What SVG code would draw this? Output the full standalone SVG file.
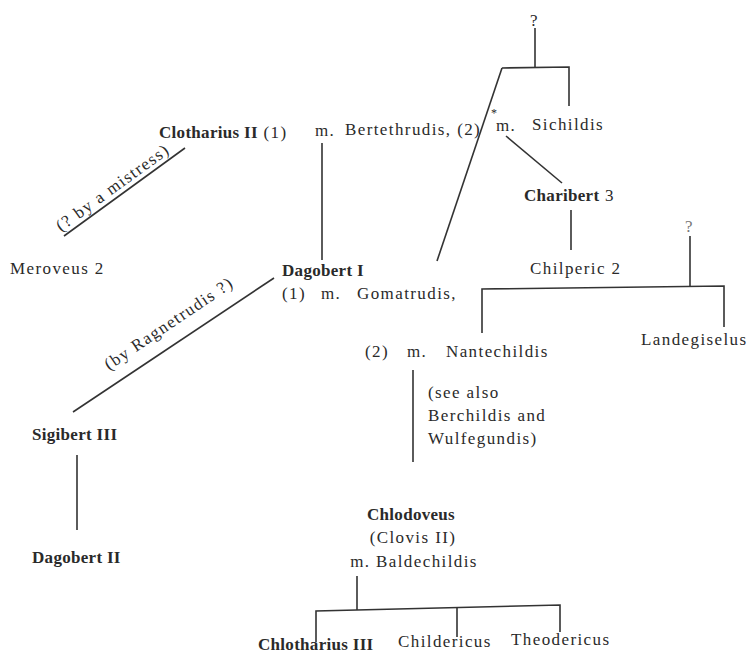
<svg xmlns="http://www.w3.org/2000/svg" width="751" height="656" viewBox="0 0 751 656">
<style>
text{font-family:"Liberation Serif","Times New Roman",serif;font-size:17px;fill:#2a2a2a;letter-spacing:1.4px}
.b{font-weight:bold;letter-spacing:0.3px}
.s{font-size:12px}
#connectors line,#connectors polyline{stroke:#333;stroke-width:1.6;fill:none}
</style>
<rect width="751" height="656" fill="#fff"/>
<g id="connectors">
<line x1="535" y1="28" x2="535" y2="67"/>
<polyline points="502,68 569,67 569,106"/>
<line x1="502" y1="68" x2="437" y2="261"/>
<line x1="506" y1="136" x2="562" y2="183"/>
<line x1="322" y1="143" x2="322" y2="260"/>
<line x1="185" y1="148" x2="64" y2="236"/>
<line x1="571" y1="210" x2="571" y2="250"/>
<line x1="690" y1="236" x2="690" y2="286"/>
<polyline points="482,333 482,289 724,286 724,327"/>
<line x1="274" y1="278" x2="73" y2="412"/>
<line x1="413" y1="370" x2="413" y2="462"/>
<line x1="77" y1="455" x2="77" y2="530"/>
<line x1="357" y1="576" x2="357" y2="610"/>
<polyline points="316,642 316,611 560,605 560,632"/>
<line x1="457" y1="607" x2="457" y2="637"/>
</g>
<g id="q-top"><text x="530" y="26">?</text></g>
<g id="q-right"><text x="685" y="232" style="fill:#777">?</text></g>
<g id="clotharius"><text x="159" y="138"><tspan class="b">Clotharius II</tspan> (1)</text></g>
<g id="bertethrudis"><text x="315" y="136">m.</text><text x="345" y="135">Bertethrudis, (2)</text></g>
<g id="sichildis"><text class="s" x="491" y="117">*</text><text x="496" y="131">m.</text><text x="532" y="130">Sichildis</text></g>
<g id="meroveus"><text x="10" y="274">Meroveus 2</text></g>
<g id="label-mistress"><text x="0" y="0" text-anchor="middle" transform="translate(116,192) rotate(-36)">(? by a mistress)</text></g>
<g id="charibert"><text x="524" y="201"><tspan class="b">Charibert</tspan> 3</text></g>
<g id="chilperic"><text x="530" y="274">Chilperic 2</text></g>
<g id="dagobert1"><text class="b" x="282" y="276">Dagobert I</text><text x="282" y="299">(1)</text><text x="321" y="299">m.</text><text x="357" y="299">Gomatrudis,</text></g>
<g id="label-ragnetrudis"><text x="0" y="0" text-anchor="middle" transform="translate(172,328) rotate(-34)">(by Ragnetrudis ?)</text></g>
<g id="nantechildis"><text x="365" y="357">(2)</text><text x="407" y="357">m.</text><text x="446" y="357">Nantechildis</text></g>
<g id="landegiselus"><text x="641" y="345">Landegiselus</text></g>
<g id="see-also"><text x="428" y="398">(see also</text><text x="428" y="421">Berchildis and</text><text x="428" y="444">Wulfegundis)</text></g>
<g id="sigibert3"><text class="b" x="32" y="440">Sigibert III</text></g>
<g id="dagobert2"><text class="b" x="32" y="563">Dagobert II</text></g>
<g id="chlodoveus"><text class="b" x="411" y="520" text-anchor="middle">Chlodoveus</text><text x="413" y="543" text-anchor="middle">(Clovis II)</text><text x="414" y="567" text-anchor="middle">m. Baldechildis</text></g>
<g id="chlotharius3"><text class="b" x="258" y="650">Chlotharius III</text></g>
<g id="childericus"><text x="398" y="647">Childericus</text></g>
<g id="theodericus"><text x="511" y="645">Theodericus</text></g>
</svg>
